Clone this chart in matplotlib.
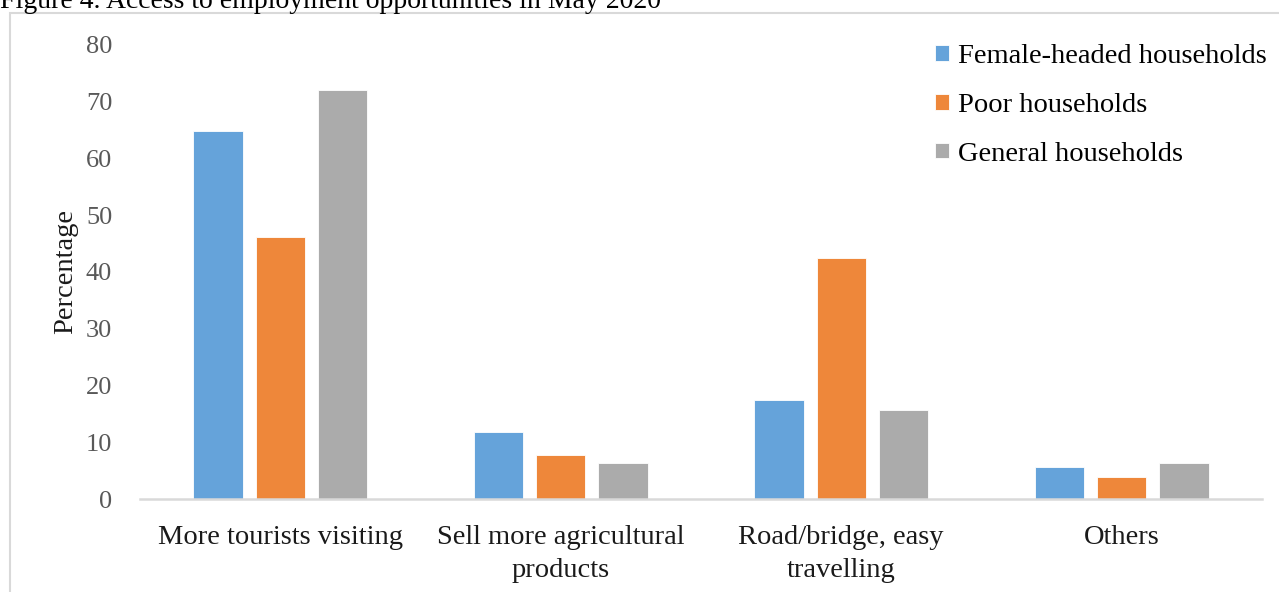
import matplotlib
matplotlib.use("Agg")
import matplotlib.pyplot as plt
import numpy as np
from matplotlib.patches import Rectangle

plt.rcParams['font.family'] = ['Liberation Serif', 'DejaVu Serif']

categories = ["More tourists visiting", "Sell more agricultural\nproducts",
              "Road/bridge, easy\ntravelling", "Others"]
series_names = ["Female-headed households", "Poor households", "General households"]
female = [64.8, 11.8, 17.5, 5.7]
poor = [46.2, 7.8, 42.5, 3.8]
general = [72.1, 6.3, 15.6, 6.3]
colors = ["#65A3DA", "#EE873A", "#ABABAB"]
yticks = [0, 10, 20, 30, 40, 50, 60, 70, 80]

fig = plt.figure(figsize=(12.79, 5.92), dpi=100)
ax = fig.add_axes([140/1279, 1 - 499/592, (1262-140)/1279, (499-45)/592])

x = np.arange(len(categories))
w = 0.175
off = 0.222
for i, (vals, name, c) in enumerate(zip([female, poor, general], series_names, colors)):
    ax.bar(x + (i - 1) * off, vals, width=w, color=c, label=name,
           edgecolor='white', linewidth=0.6)

ax.set_xlim(-0.5, len(categories) - 0.5)
ax.set_ylim(0, 80)
ax.set_yticks(yticks)
ax.set_yticklabels([str(t) for t in yticks], fontsize=19, color='#595959')
ax.set_xticks(x)
ax.set_xticklabels(categories, fontsize=20.5, color='#1a1a1a', linespacing=1.44)
ax.tick_params(axis='both', length=0)
ax.tick_params(axis='y', pad=20)
ax.tick_params(axis='x', pad=18.5)
for s in ['top', 'right', 'left']:
    ax.spines[s].set_visible(False)
ax.spines['bottom'].set_color('#d9d9d9')
ax.spines['bottom'].set_linewidth(1.8)
ax.set_ylabel("Percentage", fontsize=20.5, color='#1a1a1a', labelpad=5.5)

leg = ax.legend(loc='upper left', bbox_to_anchor=((924-140)/1122, 1.0 + 12/454),
                frameon=False, fontsize=20.5, handlelength=0.48, handleheight=0.48,
                handletextpad=0.32, labelspacing=0.83, borderaxespad=0)

# outer frame
fig.patches.append(Rectangle((10/1279, -0.05), 1.1, 1 - 13/592 + 0.05,
                             transform=fig.transFigure, fill=False,
                             edgecolor='#d9d9d9', linewidth=1.5))
fig.text(0, 1 - 8/592, "Figure 4. Access to employment opportunities in May 2020",
         fontsize=20, va='baseline', ha='left', color='black')

fig.savefig("out.png", dpi=100)
